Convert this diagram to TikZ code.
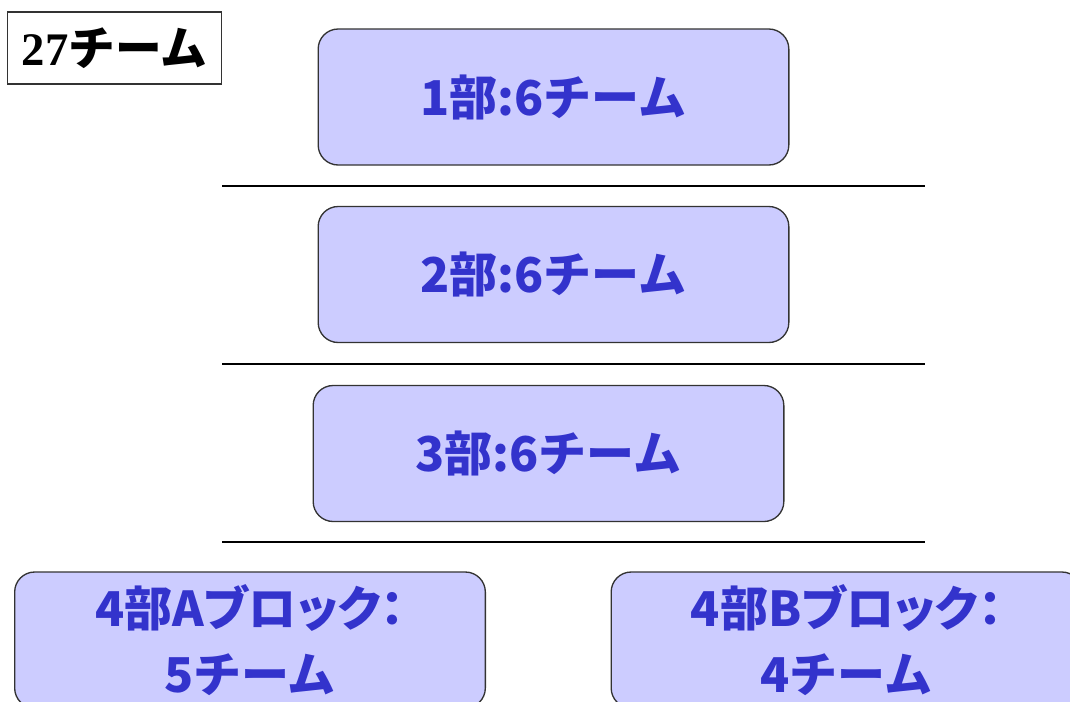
\documentclass[tikz,border=0pt]{standalone}
\usepackage{fontspec}
\setmainfont{Liberation Serif}
\newfontfamily\jpfont{Noto Sans CJK JP}
\newfontfamily\jppalt{Noto Sans CJK JP}[RawFeature=+palt]
\usetikzlibrary{positioning}
\definecolor{divfill}{HTML}{CCCCFF}
\definecolor{divtext}{HTML}{3333CC}
\definecolor{divedge}{HTML}{333333}
\begin{document}
\begin{tikzpicture}[x=0.75pt, y=-0.75pt,
    division/.style={draw=divedge, line width=1pt, fill=divfill, rounded corners=15pt,
        minimum width=353pt, minimum height=102pt, align=center,
        text=divtext, font=\jpfont\bfseries\fontsize{36}{49}\selectfont},
    sepline/.style={line width=0.9pt, black}]
    \useasboundingbox (0,0) rectangle (1070,701);
    \clip (0,0) rectangle (1070,701);

    % Total
    \node[draw=divedge, line width=0.9pt, minimum width=161pt, minimum height=54pt, inner sep=0pt,
          font=\bfseries\fontsize{35}{38}\selectfont] (total) at (114.5,48)
          {27{\jpfont チーム}};

    % Divisions
    \node[division] (div1) at (553.5,97) {1部:6チーム};
    \node[division] (div2) at (553.5,274.5) {2部:6チーム};
    \node[division] (div3) at (548.5,453.5) {3部:6チーム};

    % Separators
    \draw[sepline] (222,186) -- (925,186);
    \draw[sepline] (222,364) -- (925,364);
    \draw[sepline] (222,542) -- (925,542);

    % Fourth division blocks
    \node[division] (div4a) at (250,640) {{\jppalt\bfseries 4部Aブロック：}\\5チーム};
    \node[division] (div4b) at (846.5,640) {{\jppalt\bfseries 4部Bブロック：}\\4チーム};
\end{tikzpicture}
\end{document}
